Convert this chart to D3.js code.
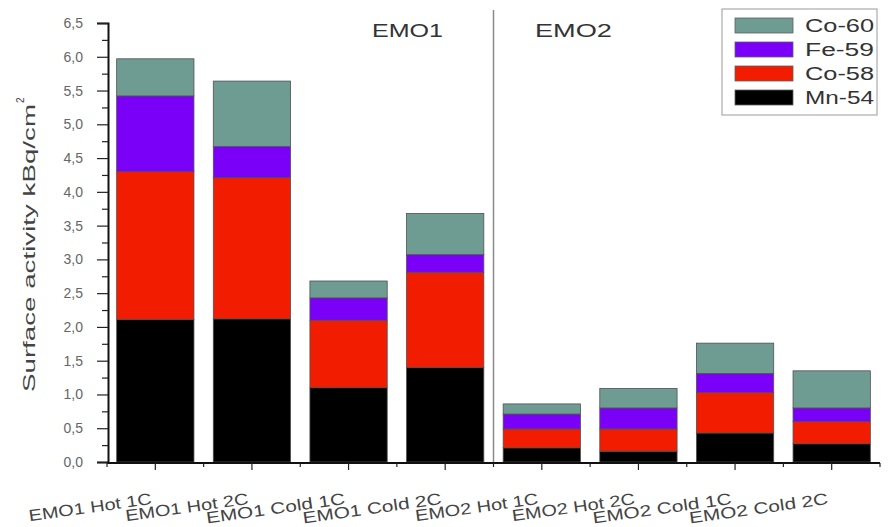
<!DOCTYPE html>
<html>
<head>
<meta charset="utf-8">
<script src="https://cdn.jsdelivr.net/npm/d3@7"></script>
<style>
  body { margin: 0; background: #fff; }
  svg { display: block; font-family: "Liberation Sans", Arial, sans-serif; }
</style>
</head>
<body>
<svg id="chart" width="888" height="527"></svg>
<script>
const categories = ["EMO1 Hot 1C", "EMO1 Hot 2C", "EMO1 Cold 1C", "EMO1 Cold 2C",
                    "EMO2 Hot 1C", "EMO2 Hot 2C", "EMO2 Cold 1C", "EMO2 Cold 2C"];
const seriesNames = ["Mn-54", "Co-58", "Fe-59", "Co-60"];
const mn54 = [2.11, 2.12, 1.10, 1.40, 0.21, 0.16, 0.43, 0.27];
const co58 = [2.19, 2.09, 1.00, 1.41, 0.28, 0.33, 0.60, 0.33];
const fe59 = [1.12, 0.46, 0.33, 0.26, 0.22, 0.31, 0.28, 0.20];
const co60 = [0.55, 0.97, 0.25, 0.61, 0.15, 0.29, 0.45, 0.55];
const yTicks = [0, 0.5, 1, 1.5, 2, 2.5, 3, 3.5, 4, 4.5, 5, 5.5, 6, 6.5];
const yMinorTicks = [0.25, 0.75, 1.25, 1.75, 2.25, 2.75, 3.25, 3.75, 4.25, 4.75, 5.25, 5.75, 6.25];
const groupLabels = ["EMO1", "EMO2"];
const yTitle = "Surface activity kBq/cm";
const colors = {"Mn-54": "#000000", "Co-58": "#f21c00", "Fe-59": "#7a00f7", "Co-60": "#6e9c93"};

const svg = d3.select("#chart");
const x0 = 107, x1 = 880, yBase = 462, yTop = 23;

const x = d3.scaleBand().domain(categories).range([x0, x1]).paddingInner(0.2).paddingOuter(0.1);
const y = d3.scaleLinear().domain([0, 6.5]).range([yBase, yTop]);

const table = categories.map((c, i) => ({cat: c, "Mn-54": mn54[i], "Co-58": co58[i], "Fe-59": fe59[i], "Co-60": co60[i]}));
const stacked = d3.stack().keys(seriesNames)(table);

// bars
svg.append("g").selectAll("g").data(stacked).join("g")
  .attr("fill", d => colors[d.key])
  .selectAll("rect").data(d => d).join("rect")
  .attr("x", d => x(d.data.cat))
  .attr("width", x.bandwidth())
  .attr("y", d => y(d[1]))
  .attr("height", d => y(d[0]) - y(d[1]))
  .attr("stroke", "#505050")
  .attr("stroke-width", 0.8);

// divider between groups
const divX = (x(categories[3]) + x.bandwidth() + x(categories[4])) / 2;
svg.append("line")
  .attr("x1", divX).attr("x2", divX).attr("y1", 10).attr("y2", yBase)
  .attr("stroke", "#8a8a8a").attr("stroke-width", 1.5);

// group labels
const midEMO1 = 407;
svg.append("text").text(groupLabels[0])
  .attr("x", 372).attr("y", 37).attr("font-size", 19).attr("fill", "#333")
  .attr("textLength", 71).attr("lengthAdjust", "spacingAndGlyphs");
svg.append("text").text(groupLabels[1])
  .attr("x", 535).attr("y", 37).attr("font-size", 19).attr("fill", "#333")
  .attr("textLength", 77).attr("lengthAdjust", "spacingAndGlyphs");

// y axis
const yAxis = d3.axisLeft(y).tickValues(yTicks).tickSize(11).tickPadding(14)
  .tickFormat(d => d3.format(".1f")(d).replace(".", ","));
const gy = svg.append("g").attr("transform", `translate(${x0 + 1},0)`).call(yAxis);
gy.select(".domain").attr("stroke", "#111").attr("stroke-width", 2);
gy.selectAll(".tick line").attr("stroke", "#222").attr("stroke-width", 1.2);
gy.selectAll(".tick text").attr("font-size", 14).attr("fill", "#666")
  .attr("font-family", "Liberation Sans, Arial, sans-serif");
const yMinor = d3.axisLeft(y).tickValues(yMinorTicks).tickSize(6).tickFormat("");
const gym = svg.append("g").attr("transform", `translate(${x0 + 1},0)`).call(yMinor);
gym.select(".domain").remove();
gym.selectAll(".tick line").attr("stroke", "#222").attr("stroke-width", 1.2);

// x axis
const xAxis = d3.axisBottom(x).tickSize(7).tickFormat("");
const gx = svg.append("g").attr("transform", `translate(0,${yBase + 1})`).call(xAxis);
gx.select(".domain").attr("stroke", "#111").attr("stroke-width", 2).attr("d", `M${x0},0H${x1}`);
gx.selectAll(".tick line").attr("stroke", "#222").attr("stroke-width", 1.2);
// minor ticks at band boundaries
const boundaries = categories.map(c => x(c) - x.step() * x.paddingInner() / 2).concat([x1]);
gx.selectAll(".minor").data(boundaries).join("line").attr("class", "minor")
  .attr("x1", d => d).attr("x2", d => d).attr("y1", 0).attr("y2", 4)
  .attr("stroke", "#222").attr("stroke-width", 1.2);

// x tick labels (slanted)
const labelLen = c => c.includes("Cold") ? 140 : 124;
svg.append("g").selectAll("text").data(categories).join("text")
  .attr("transform", d => `translate(${x(d) + x.bandwidth() / 2 - 3},${504}) rotate(-8)`)
  .attr("text-anchor", "end")
  .attr("font-size", 16).attr("fill", "#444")
  .attr("textLength", d => labelLen(d)).attr("lengthAdjust", "spacingAndGlyphs")
  .text(d => d);

// y title
svg.append("text")
  .attr("transform", `translate(35,392) rotate(-90)`)
  .attr("font-size", 17).attr("fill", "#444")
  .attr("textLength", 288).attr("lengthAdjust", "spacingAndGlyphs")
  .text(yTitle);
svg.append("text")
  .attr("transform", `translate(24,103) rotate(-90)`)
  .attr("font-size", 10).attr("fill", "#444")
  .text("2");

// legend
const legendItems = ["Co-60", "Fe-59", "Co-58", "Mn-54"];
const lg = svg.append("g");
lg.append("rect").attr("x", 722).attr("y", 9).attr("width", 155).attr("height", 106)
  .attr("fill", "#fff").attr("stroke", "#9a9a9a").attr("stroke-width", 1);
legendItems.forEach((k, i) => {
  const yy = 18 + i * 24;
  lg.append("rect").attr("x", 735).attr("y", yy).attr("width", 58).attr("height", 15)
    .attr("fill", colors[k]).attr("stroke", "#606060").attr("stroke-width", 0.8);
  lg.append("text").attr("x", 805).attr("y", yy + 14).attr("font-size", 18).attr("fill", "#333")
    .attr("textLength", 69).attr("lengthAdjust", "spacingAndGlyphs").text(k);
});
</script>
</body>
</html>
